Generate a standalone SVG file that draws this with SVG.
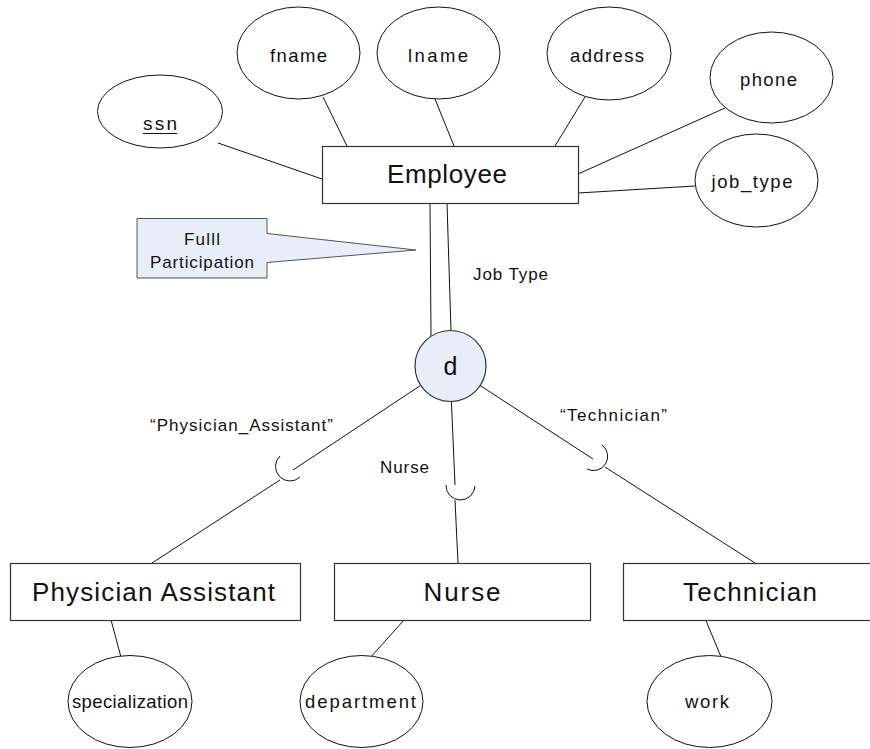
<svg xmlns="http://www.w3.org/2000/svg" width="870" height="749" viewBox="0 0 870 749">
<style>
text{font-family:"Liberation Sans",Arial,sans-serif;fill:#111;text-anchor:middle}
.ent{fill:#fff;stroke:#333;stroke-width:1.2}
.att{fill:#fff;stroke:#111;stroke-width:1}
.big{font-size:26px}
.sm{font-size:18.5px}
.lb{font-size:17px}
.ln{stroke:#111;stroke-width:1;fill:none}
.blue{fill:#e8eef8}
</style>
<rect width="870" height="749" fill="#fff"/>
<g id="connectors">
<line class="ln" x1="218" y1="143" x2="322" y2="179"/>
<line class="ln" x1="323" y1="97" x2="347" y2="146"/>
<line class="ln" x1="435" y1="99" x2="454" y2="146"/>
<line class="ln" x1="585" y1="97" x2="555" y2="146"/>
<line class="ln" x1="725" y1="108" x2="578" y2="174"/>
<line class="ln" x1="695" y1="186" x2="578" y2="193"/>
<line class="ln" x1="430" y1="203" x2="431" y2="336"/>
<line class="ln" x1="447" y1="203" x2="451" y2="331"/>
<line class="ln" x1="420.5" y1="385.5" x2="293" y2="470"/>
<path class="ln" d="M280,456 A14.5,14.5 0 0 0 300,477"/>
<line class="ln" x1="280" y1="480" x2="152" y2="563"/>
<line class="ln" x1="451.4" y1="401.5" x2="455" y2="485"/>
<path class="ln" d="M446,485 A14.5,14.5 0 0 0 475,486"/>
<line class="ln" x1="455" y1="500" x2="458" y2="563"/>
<line class="ln" x1="479.8" y1="385.3" x2="593" y2="459"/>
<path class="ln" d="M602,445 A14.2,14.2 0 0 1 587,469"/>
<line class="ln" x1="605" y1="467" x2="755" y2="563"/>
<line class="ln" x1="111" y1="620" x2="120.7" y2="656"/>
<line class="ln" x1="404" y1="620" x2="371.7" y2="656"/>
<line class="ln" x1="705.7" y1="620" x2="720.7" y2="656"/>
</g>
<g id="employee"><rect class="ent" x="322.5" y="146.5" width="256" height="57"/><text class="big" x="447" y="183" textLength="120" lengthAdjust="spacing">Employee</text></g>
<g id="ssn"><ellipse class="att" cx="160" cy="111.5" rx="62.5" ry="36.5"/><text x="160" y="130" style="font-size:19px" textLength="34" lengthAdjust="spacing">ssn</text><line x1="143" y1="133.5" x2="177" y2="133.5" stroke="#111" stroke-width="1.2"/></g>
<g id="fname"><ellipse class="att" cx="298.5" cy="53" rx="61.5" ry="46"/><text class="sm" x="298.5" y="62" textLength="57" lengthAdjust="spacing">fname</text></g>
<g id="lname"><ellipse class="att" cx="438.5" cy="53" rx="61.5" ry="46"/><text class="sm" x="438" y="62" textLength="60" lengthAdjust="spacing">lname</text></g>
<g id="address"><ellipse class="att" cx="609" cy="53.5" rx="62" ry="46.5"/><text class="sm" x="607" y="62" textLength="74" lengthAdjust="spacing">address</text></g>
<g id="phone"><ellipse class="att" cx="771.5" cy="77.5" rx="61.5" ry="45.5"/><text class="sm" x="768.5" y="86" textLength="57" lengthAdjust="spacing">phone</text></g>
<g id="job_type"><ellipse class="att" cx="756.5" cy="180.5" rx="61.5" ry="46.5"/><text class="sm" x="752" y="188" textLength="81" lengthAdjust="spacing">job_type</text></g>
<g id="callout"><path class="blue" stroke="#555" stroke-width="1" d="M137,218.5 H267 V233.5 L416,250 L267,262.5 V278 H137 Z"/><text class="lb" x="202" y="244.5" textLength="36" lengthAdjust="spacing">Fulll</text><text class="lb" x="202" y="268" textLength="104" lengthAdjust="spacing">Participation</text></g>
<g id="jobtype-label"><text class="lb" x="510.5" y="280" textLength="75" lengthAdjust="spacing">Job Type</text></g>
<g id="d"><circle class="blue" stroke="#333" stroke-width="1.2" cx="450.5" cy="366" r="35.5"/><text x="450.5" y="375" style="font-size:25px">d</text></g>
<g id="label-pa"><text class="lb" x="241.5" y="431" textLength="183" lengthAdjust="spacing">“Physician_Assistant”</text></g>
<g id="label-nurse"><text class="lb" x="404.5" y="473" textLength="49" lengthAdjust="spacing">Nurse</text></g>
<g id="label-tech"><text class="lb" x="613.5" y="421" textLength="107" lengthAdjust="spacing">“Technician”</text></g>
<g id="physician-assistant"><rect class="ent" x="10.5" y="563.5" width="290" height="57"/><text class="big" x="153.5" y="601" textLength="243" lengthAdjust="spacing">Physician Assistant</text></g>
<g id="nurse"><rect class="ent" x="334.5" y="563.5" width="256" height="57"/><text class="big" x="462" y="601" textLength="77" lengthAdjust="spacing">Nurse</text></g>
<g id="technician"><rect class="ent" x="623.5" y="563.5" width="256" height="57"/><text class="big" x="750" y="601" textLength="134" lengthAdjust="spacing">Technician</text></g>
<g id="specialization"><ellipse class="att" cx="130" cy="701.5" rx="62" ry="46"/><text class="sm" x="130" y="708" textLength="116" lengthAdjust="spacing">specialization</text></g>
<g id="department"><ellipse class="att" cx="361.5" cy="701.5" rx="61.5" ry="46"/><text class="sm" x="360.5" y="708" textLength="111" lengthAdjust="spacing">department</text></g>
<g id="work"><ellipse class="att" cx="709.5" cy="701.5" rx="62.5" ry="46"/><text class="sm" x="707" y="708" textLength="44" lengthAdjust="spacing">work</text></g>
</svg>
